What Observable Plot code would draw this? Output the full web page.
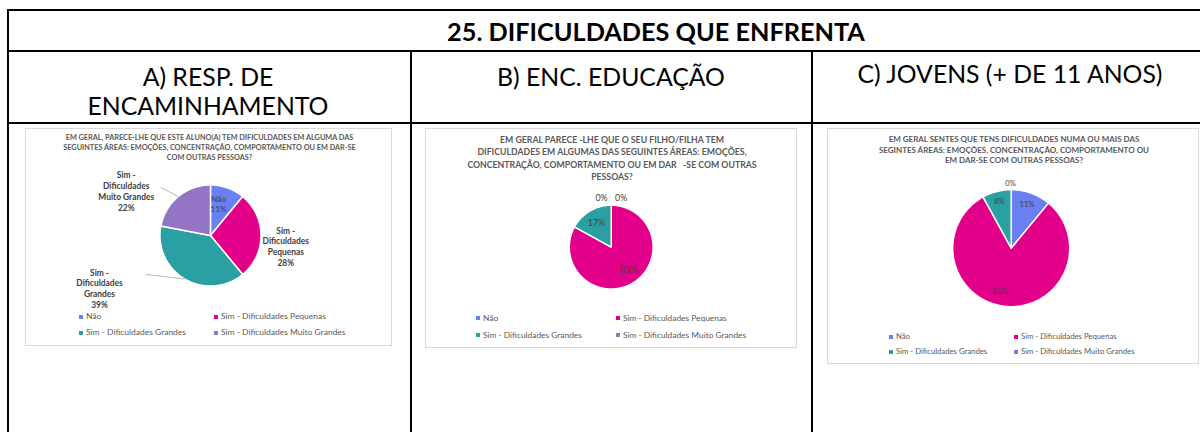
<!DOCTYPE html>
<html><head><meta charset="utf-8">
<script src="https://cdn.jsdelivr.net/npm/d3@7"></script>
<script src="https://cdn.jsdelivr.net/npm/@observablehq/plot@0.6"></script>
<style>
body{margin:0;background:#fff;}
#root{position:relative;width:1200px;height:432px;overflow:hidden;font-family:Lato,"Open Sans",sans-serif;background:#fff;}
.ln{position:absolute;background:#000;}
.t{position:absolute;white-space:nowrap;text-align:center;}
.box{position:absolute;border:1px solid #d9d9d9;box-sizing:border-box;background:#fff;}
.box svg{position:absolute;left:0;top:0;overflow:visible;}
.sw{position:absolute;width:4px;height:4px;}
</style>
</head><body><div id="root"></div>
<script>
// ---------------- DATA ----------------
const mainTitle = "25. DIFICULDADES QUE ENFRENTA";
const headers = [["A) RESP. DE", "ENCAMINHAMENTO"], ["B) ENC. EDUCAÇÃO"], ["C) JOVENS (+ DE 11 ANOS)"]];
const categories = ["Não", "Sim - Dificuldades Pequenas", "Sim - Dificuldades Grandes", "Sim - Dificuldades Muito Grandes"];
const labelNames = ["Não", "Sim -\nDificuldades\nPequenas", "Sim -\nDificuldades\nGrandes", "Sim -\nDificuldades\nMuito Grandes"];
const colors = ["#6b80f0", "#e2008b", "#2aa0a5", "#9474c4"];
const valuesA = [11, 28, 39, 22];
const valuesB = [0, 83, 17, 0];
const valuesC = [11, 81, 8, 0];
const chartTitleA = ["EM GERAL, PARECE-LHE QUE ESTE ALUNO(A) TEM DIFICULDADES EM ALGUMA DAS",
  "SEGUINTES ÁREAS: EMOÇÕES, CONCENTRAÇÃO, COMPORTAMENTO OU EM DAR-SE",
  "COM OUTRAS PESSOAS?"];
const chartTitleB = ["EM GERAL PARECE -LHE QUE O SEU FILHO/FILHA TEM",
  "DIFICULDADES EM ALGUMAS DAS SEGUINTES ÁREAS: EMOÇÕES,",
  "CONCENTRAÇÃO, COMPORTAMENTO OU EM DAR   -SE COM OUTRAS",
  "PESSOAS?"];
const chartTitleC = ["EM GERAL SENTES QUE TENS DIFICULDADES NUMA OU MAIS DAS",
  "SEGINTES ÁREAS: EMOÇÕES, CONCENTRAÇÃO, COMPORTAMENTO OU",
  "EM DAR-SE COM OUTRAS PESSOAS?"];

// ---------------- LAYOUT ----------------
const FAMILY = 'Lato, "Open Sans", sans-serif';
const root = document.getElementById("root");
const cv = document.createElement("canvas").getContext("2d");
function fit(text, weight, target) {
  cv.font = `${weight} 100px ${FAMILY}`;
  return 100 * target / cv.measureText(text).width;
}
function line(x, y, w, h) {
  const d = document.createElement("div");
  d.className = "ln";
  Object.assign(d.style, {left: x + "px", top: y + "px", width: w + "px", height: h + "px"});
  root.appendChild(d);
}
function text(parent, str, cx, cy, size, weight, color) {
  const d = document.createElement("div");
  d.className = "t";
  d.textContent = str;
  Object.assign(d.style, {left: (cx - 500) + "px", width: "1000px", top: (cy - size * 0.6) + "px",
    fontSize: size + "px", lineHeight: (size * 1.2) + "px", fontWeight: weight, color: color, whiteSpace: "pre"});
  parent.appendChild(d);
  return d;
}

// table grid
line(7, 9, 1200, 2);
line(7, 49.5, 1200, 2);
line(7, 122, 1200, 2);
line(7, 9, 2, 430);
line(409.5, 50, 2, 390);
line(811, 50, 2, 390);

const titleSize = fit(mainTitle, 700, 418);
text(root, mainTitle, 656, 31, titleSize, 700, "#000");
const headSize = fit("ENCAMINHAMENTO", 400, 241);
text(root, headers[0][0], 208, 77, headSize, 400, "#000");
text(root, headers[0][1], 208, 105.5, headSize, 400, "#000");
text(root, headers[1][0], 611, 77, headSize, 400, "#000");
text(root, headers[2][0], 1010, 74, headSize, 400, "#000");

// panels
const panels = [
  {values: valuesA, titleLines: chartTitleA, box: [25, 128, 392, 346], c: [210, 235], r: 51,
   titleFit: [0, 289], titleY: [137.3, 147.7, 157.7],
   legendY: [315.5, 331.5], legendX: [80, 215], legendFit: 105,
   labelFit: ["Dificuldades", 46.5], labelWeight: [400, 700, 700, 700], named: true,
   // label placement: polar factor k and offsets (radius units)
   place: [[0.62, -0.05, -0.05], [1.49, 0, 0.216], [1, -1.687, 0.184], [1, -1.03, -0.109]],
   leaders: [null, null, [47, -14], [35, -3.5]], lineHeight: 1.28},
  {values: valuesB, titleLines: chartTitleB, box: [425, 128, 797, 347.5], c: [610.7, 246.7], r: 42.3,
   titleFit: [1, 270], titleY: [139.5, 151.5, 163.8, 176.3],
   legendY: [317.3, 334.3], legendX: [477, 617], legendFit: 104,
   labelFit: ["83%", 17.3], labelWeight: [400, 400, 400, 400], named: false,
   place: [[1.19, -0.231, 0], [0.66, 0.08, -0.03], [0.69, 0, 0], [1.19, 0.238, 0]],
   leaders: [null, null, null, null], lineHeight: 1.2},
  {values: valuesC, titleLines: chartTitleC, box: [827, 128, 1199, 364], c: [1010.7, 247.7], r: 59,
   titleFit: [0, 252], titleY: [139, 150, 160.3],
   legendY: [335.7, 351], legendX: [890, 1015], legendFit: 95.7,
   labelFit: ["81%", 15], labelWeight: [400, 400, 400, 400], named: false,
   place: [[0.8, 0, 0], [0.75, -0.12, -0.02], [0.83, 0, 0], [1.12, -0.012, 0]],
   leaders: [null, null, null, null], lineHeight: 1.2}
];

const deg = Math.PI / 180;
const polar = (a, k) => [k * Math.sin(a), -k * Math.cos(a)];

for (const p of panels) {
  const [bx0, by0, bx1, by1] = p.box;
  const bw = bx1 - bx0, bh = by1 - by0;
  const box = document.createElement("div");
  box.className = "box";
  Object.assign(box.style, {left: bx0 + "px", top: by0 + "px", width: bw + "px", height: bh + "px"});
  root.appendChild(box);

  // chart title
  const ts = fit(p.titleLines[p.titleFit[0]], 700, p.titleFit[1]);
  p.titleLines.forEach((s, i) => text(box, s, p.c[0] - bx0 + (bx0 + bx1) / 2 - p.c[0], p.titleY[i] - by0, ts, 700, "#595959"));

  // pie geometry from data
  const total = d3.sum(p.values);
  const arcs = d3.pie().sort(null).value(d => d)(p.values.map(v => v / total * 100));
  const slices = [];
  arcs.forEach((a, i) => {
    if (p.values[i] <= 0) return;
    const n = Math.max(2, Math.ceil((a.endAngle - a.startAngle) / deg));
    const ring = [[0, 0]];
    for (let j = 0; j <= n; j++) ring.push(polar(a.startAngle + (a.endAngle - a.startAngle) * j / n, 1));
    ring.push([0, 0]);
    slices.push({type: "Feature", properties: {cat: categories[i]}, geometry: {type: "Polygon", coordinates: [ring]}});
  });
  const labels = arcs.map((a, i) => {
    const mid = (a.startAngle + a.endAngle) / 2;
    const [k, ox, oy] = p.place[i];
    const [x, y] = polar(mid, k);
    return {x: x + ox, y: y + oy, mid, i,
      text: p.named ? `${labelNames[i]}\n${p.values[i]}%`.replace(i === 0 ? /^Não\n/ : /$^/, i === 0 ? "Não\n" : "") : `${p.values[i]}%`};
  });
  if (p.named) labels[0].text = `${labelNames[0]}\n${p.values[0]}%`;
  const leaders = [];
  labels.forEach((l, i) => {
    const off = p.leaders[i];
    if (!off) return;
    const e = polar(l.mid, 1);
    leaders.push({type: "Feature", geometry: {type: "LineString", coordinates: [
      [l.x + off[0] / p.r, l.y + off[1] / p.r], e]}});
  });

  const ls = fit(p.labelFit[0], p.named ? 700 : 400, p.labelFit[1]);
  const domain = {type: "MultiPoint", coordinates: [
    [(bx0 - p.c[0]) / p.r, (by0 - p.c[1]) / p.r], [(bx1 - p.c[0]) / p.r, (by1 - p.c[1]) / p.r]]};
  const marks = [
    Plot.geo(slices, {fill: d => d.properties.cat, stroke: "#fff", strokeWidth: 1.5}),
    Plot.geo(leaders, {stroke: "#a6a6a6", strokeWidth: 0.8}),
  ];
  for (const w of [400, 700]) {
    const sub = labels.filter(l => p.labelWeight[l.i] === w);
    if (sub.length) marks.push(Plot.text(sub, {x: "x", y: "y", text: "text", fill: "#404040",
      fontSize: ls, fontWeight: w, lineHeight: p.lineHeight, textAnchor: "middle", lineAnchor: "middle"}));
  }
  const svg = Plot.plot({
    width: bw - 2, height: bh - 2, margin: 0,
    style: {fontFamily: FAMILY, background: "transparent", overflow: "visible"},
    projection: {type: "identity", domain},
    color: {domain: categories, range: colors},
    marks
  });
  svg.style.left = "0px"; svg.style.top = "0px";
  box.appendChild(svg);

  // legend
  const lgs = fit(categories[1], 400, p.legendFit);
  categories.forEach((c, i) => {
    const col = i % 2, row = Math.floor(i / 2);
    const x = p.legendX[col] - bx0, y = p.legendY[row] - by0;
    const sq = document.createElement("div");
    sq.className = "sw";
    Object.assign(sq.style, {left: (x - 2) + "px", top: (y - 2) + "px", background: colors[i]});
    box.appendChild(sq);
    const t = document.createElement("div");
    t.className = "t";
    t.textContent = c;
    Object.assign(t.style, {left: (x + 5) + "px", top: (y - lgs * 0.6) + "px", fontSize: lgs + "px",
      lineHeight: (lgs * 1.2) + "px", color: "#595959", textAlign: "left"});
    box.appendChild(t);
  });
}
</script>
</body></html>
